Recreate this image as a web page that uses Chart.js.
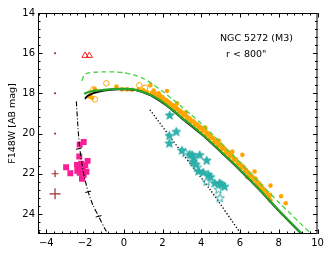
<!DOCTYPE html>
<html>
<head>
<meta charset="utf-8">
<script src="https://cdn.jsdelivr.net/npm/chart.js@4.4.0/dist/chart.umd.min.js"></script>
<style>
  body { margin: 0; background: #fff; }
  canvas { display: block; }
</style>
</head>
<body>
<canvas id="cmd_chart" width="332" height="256"></canvas>
<script>
// tick labels
const x_ticks = [-4, -2, 0, 2, 4, 6, 8, 10];
const y_ticks = [14, 16, 18, 20, 22, 24];

// model tracks
const green_solid_x = [-2.05, -1.8, -1.4, -0.9, -0.4, 0.1, 0.5, 0.9, 1.4, 1.8, 2.2, 2.6, 3.0, 3.5, 4.0, 5.0, 6.0, 7.0, 8.0, 9.2];
const green_solid_y = [18.02, 17.92, 17.86, 17.81, 17.78, 17.78, 17.8, 17.9, 18.08, 18.3, 18.58, 18.88, 19.22, 19.6, 20.0, 20.88, 21.8, 22.78, 23.82, 25.0];

const green_dash_x = [-2.17, -2.05, -1.9, -1.5, -1.0, -0.5, 0.0, 0.5, 1.0, 1.5, 2.0, 2.5, 3.0, 3.5, 4.0, 5.0, 6.0, 7.0, 8.0, 9.7];
const green_dash_y = [17.38, 17.1, 17.0, 16.95, 16.93, 16.93, 16.97, 17.08, 17.25, 17.55, 17.9, 18.28, 18.68, 19.08, 19.5, 20.45, 21.45, 22.45, 23.42, 25.02];

const iso_x = [-2.0, -1.95, -1.85, -1.6, -1.2, -0.8, -0.3, 0.1, 0.5, 1.0, 1.4, 2.2, 3.0, 4.0, 5.0, 6.0, 7.0, 8.0, 9.2];
const iso_y = [18.28, 18.2, 18.12, 18.0, 17.9, 17.84, 17.8, 17.8, 17.82, 17.95, 18.11, 18.61, 19.25, 20.03, 20.91, 21.83, 22.81, 23.85, 25.03];

const wd_x = [-2.45, -2.38, -2.3, -2.18, -2.05, -1.84, -1.6, -1.3, -1.0, -0.82];
const wd_y = [18.4, 19.5, 20.5, 21.4, 22.1, 22.9, 23.55, 24.12, 24.7, 25.0];
const wd_mark_x = [-2.32, -1.84, -1.3];
const wd_mark_y = [20.75, 22.9, 24.12];

const dot_x = [1.35, 3.0, 4.5, 6.05];
const dot_y = [18.82, 20.95, 22.85, 25.0];

// error size markers
const err_x = [-3.55, -3.55, -3.55, -3.55, -3.55];
const err_y = [16, 18, 20, 22, 23];
const err_size = [1, 1, 1, 3.5, 5.5];

const tri_x = [-2.0, -1.78];
const tri_y = [16.12, 16.12];

// observed stars
const orange_x = [-1.8, -1.73, -1.64, -1.5, -0.38, -0.1, 0.17, 0.43, 0.77, 1.0, 1.2, 1.37, 1.54, 1.8, 2.23,
  1.45, 1.5, 1.6, 1.65, 1.75, 1.8, 1.9, 1.95, 2.0, 2.05, 2.1, 2.2, 2.25, 2.3, 2.4, 2.45, 2.5, 2.6, 2.65, 2.7,
  2.8, 2.85, 2.9, 3.0, 3.05, 3.1, 3.2, 3.25, 3.3, 3.4, 3.45, 3.5, 3.6, 3.65, 3.7, 3.8, 3.85, 3.9, 4.0, 4.05,
  4.1, 4.2, 4.25, 4.3, 4.4, 4.45, 4.5, 4.6, 4.65, 4.7, 4.8, 4.85, 4.9, 5.0, 5.05, 5.1, 5.2, 5.25, 5.3, 5.4,
  5.45, 5.5, 5.6, 5.65, 5.7, 5.8, 5.85, 5.9, 6.0, 6.05, 6.1, 6.2, 6.25, 6.3, 6.4, 6.45, 6.5, 6.6, 6.65, 6.7,
  6.8, 6.85, 6.9, 7.0, 7.05, 7.1, 7.2, 7.25, 7.3, 7.4, 7.5, 7.55,
  2.75, 3.2, 4.2, 4.9, 5.6, 6.12, 6.37, 6.75, 6.8, 6.92, 7.48, 7.57, 7.57, 8.12, 8.36];
const orange_y = [18.15, 18.08, 18.22, 17.78, 17.66, 17.8, 17.8, 17.82, 17.8, 17.85, 17.95, 17.6, 17.86, 18.0, 17.88,
  17.98, 18.05, 18.0, 18.12, 18.1, 18.22, 18.15, 18.3, 18.2, 18.4, 18.3, 18.35, 18.5, 18.42, 18.5, 18.65, 18.6, 18.62, 18.78, 18.7,
  18.8, 18.95, 18.85, 18.95, 19.1, 19.0, 19.1, 19.28, 19.2, 19.25, 19.42, 19.35, 19.4, 19.6, 19.5, 19.55, 19.75, 19.65, 19.72, 19.9,
  19.8, 19.85, 20.08, 19.98, 20.05, 20.25, 20.15, 20.22, 20.45, 20.35, 20.4, 20.62, 20.5, 20.6, 20.8, 20.7, 20.75, 20.98, 20.9, 20.95,
  21.15, 21.05, 21.12, 21.35, 21.25, 21.3, 21.55, 21.45, 21.5, 21.72, 21.6, 21.68, 21.9, 21.8, 21.92, 22.1, 22.0, 22.12, 22.3, 22.2,
  22.3, 22.5, 22.4, 22.5, 22.7, 22.6, 22.75, 22.9, 22.85, 23.0, 23.15, 23.05,
  18.5, 18.95, 19.7, 20.35, 20.9, 21.06, 22.16, 21.89, 22.25, 22.58, 23.12, 22.59, 23.32, 23.12, 23.47];

const orange_open_x = [-1.57, -1.5, -0.9, 0.8, 1.1];
const orange_open_y = [17.8, 18.3, 17.5, 17.6, 17.72];

const star_x = [2.37, 2.71, 2.35, 2.35, 3.0, 3.42, 3.53, 3.92, 3.62, 3.57, 4.28, 3.72, 3.85, 4.1, 4.36, 4.48, 4.69, 4.95, 5.05, 5.2];
const star_y = [19.1, 19.92, 20.12, 20.5, 20.85, 21.06, 21.08, 21.08, 21.2, 21.42, 21.35, 21.55, 21.88, 21.95, 22.06, 22.17, 22.48, 22.48, 22.55, 22.65];
const star_open_x = [3.18, 3.78, 4.28, 4.88, 4.96];
const star_open_y = [20.97, 21.7, 22.4, 22.8, 23.22];

const square_x = [-2.07, -2.28, -2.3, -1.87, -2.98, -2.76, -2.42, -2.33, -2.2, -1.99, -2.24, -2.12, -1.93, -2.07, -2.16, -2.4, -2.28, -2.15];
const square_y = [20.42, 20.55, 21.14, 21.36, 21.68, 21.98, 21.56, 21.72, 21.5, 21.58, 21.8, 21.7, 21.9, 22.05, 22.25, 21.85, 21.95, 21.95];

const pts = (xs, ys) => xs.map((v, i) => ({x: v, y: ys[i]}));

function make_star(fill) {
    let c = document.createElement('canvas');
    c.width = 11; c.height = 11;
    let g = c.getContext('2d');
    g.beginPath();
    for (let i = 0; i < 10; i++) {
        let r = i % 2 ? 1.9 : 4.6;
        let a = -Math.PI / 2 + i * Math.PI / 5;
        g.lineTo(5.5 + r * Math.cos(a), 5.5 + r * Math.sin(a));
    }
    g.closePath();
    if (fill) { g.fillStyle = '#2ab5ae'; g.fill(); }
    g.strokeStyle = '#26a8a2';
    g.lineWidth = 1;
    g.stroke();
    return c;
}

const frame_ticks = {
    id: 'frame_ticks',
    afterDatasetsDraw(chart) {
        const {ctx, chartArea: a, scales: {x, y}} = chart;
        ctx.save();
        ctx.strokeStyle = '#000';
        ctx.lineWidth = 1;
        ctx.strokeRect(a.left + 0.5, a.top + 0.5, a.right - a.left - 1, a.bottom - a.top - 1);
        ctx.beginPath();
        for (let i = -11; i <= 25; i++) {
            let v = i * 0.4;
            if (v < x.min || v > x.max) continue;
            let len = Math.abs(v / 2 - Math.round(v / 2)) < 1e-6 ? 4.5 : 2.5;
            let p = Math.round(x.getPixelForValue(v)) + 0.5;
            ctx.moveTo(p, a.bottom); ctx.lineTo(p, a.bottom - len);
            ctx.moveTo(p, a.top); ctx.lineTo(p, a.top + len);
        }
        for (let i = 35; i <= 62; i++) {
            let v = i * 0.4;
            if (v < y.min || v > y.max) continue;
            let len = Math.abs(v / 2 - Math.round(v / 2)) < 1e-6 ? 4.5 : 2.5;
            let p = Math.round(y.getPixelForValue(v)) + 0.5;
            ctx.moveTo(a.left, p); ctx.lineTo(a.left + len, p);
            ctx.moveTo(a.right, p); ctx.lineTo(a.right - len, p);
        }
        ctx.stroke();
        ctx.fillStyle = '#000';
        ctx.font = '9.5px "DejaVu Sans"';
        ctx.textBaseline = 'middle';
        ctx.fillText('NGC 5272 (M3)', 220, 39);
        ctx.fillText('r < 800"', 226, 55);
        ctx.restore();
    }
};

const line_set = (xs, ys, color, width, dash, order) => ({
    data: pts(xs, ys), showLine: true, borderColor: color, borderWidth: width,
    borderDash: dash, pointRadius: 0, tension: 0.25, order: order
});

new Chart(document.getElementById('cmd_chart').getContext('2d'), {
    type: 'scatter',
    data: {
        datasets: [
            line_set(green_solid_x, green_solid_y, '#28a428', 2.2, [], 1),
            line_set(green_dash_x, green_dash_y, '#44d444', 1.3, [5, 3], 2),
            line_set(iso_x, iso_y, '#000', 1.7, [], 3),
            {data: pts(orange_open_x, orange_open_y), pointStyle: 'circle', pointRadius: 2.8,
             backgroundColor: 'rgba(0,0,0,0)', borderColor: '#ffa500', borderWidth: 1, order: 4},
            {data: pts(orange_x, orange_y), pointStyle: 'circle', pointRadius: 2.3,
             backgroundColor: '#ffa500', borderColor: '#ffa500', borderWidth: 0, order: 5},
            {data: pts(star_x, star_y), pointStyle: make_star(true), order: 6},
            {data: pts(star_open_x, star_open_y), pointStyle: make_star(false), order: 6},
            line_set(dot_x, dot_y, '#000', 1.3, [1.3, 2], 7),
            line_set(wd_x, wd_y, '#000', 1.1, [5, 2, 1, 2], 8),
            {data: pts(wd_mark_x, wd_mark_y), pointStyle: 'line', pointRadius: 3, rotation: -14,
             borderColor: '#000', borderWidth: 1, order: 8},
            {data: pts(square_x, square_y), pointStyle: 'rect', pointRadius: 4.2,
             backgroundColor: '#fa1e96', borderColor: '#fa1e96', borderWidth: 0, order: 9},
            {data: pts(err_x, err_y), pointStyle: 'cross', pointRadius: err_size,
             borderColor: '#a0302a', borderWidth: 1.2, order: 10},
            {data: pts(tri_x, tri_y), pointStyle: 'triangle', pointRadius: 3.6,
             backgroundColor: 'rgba(0,0,0,0)', borderColor: '#ff2020', borderWidth: 1, order: 10}
        ]
    },
    options: {
        responsive: false,
        animation: false,
        layout: {padding: {top: 13, right: 14.5, bottom: 0, left: 0}},
        plugins: {legend: {display: false}, tooltip: {enabled: false}},
        scales: {
            x: {
                type: 'linear', min: -4.43, max: 10,
                grid: {display: false, drawTicks: false},
                border: {display: false},
                ticks: {color: '#000', font: {family: 'DejaVu Sans', size: 10}, padding: 3,
                        callback: v => String(v).replace('-', '\u2212')},
                afterBuildTicks: s => { s.ticks = x_ticks.map(v => ({value: v})); },
                afterFit: s => { s.height = 22; }
            },
            y: {
                type: 'linear', min: 14, max: 25, reverse: true,
                grid: {display: false, drawTicks: false},
                border: {display: false},
                ticks: {color: '#000', font: {family: 'DejaVu Sans', size: 10}, padding: 3},
                title: {display: true, text: 'F148W [AB mag]', color: '#000',
                        font: {family: 'DejaVu Sans', size: 9.5}, padding: {top: 7, bottom: 0}},
                afterBuildTicks: s => { s.ticks = y_ticks.map(v => ({value: v})); },
                afterFit: s => { s.width = 38; }
            }
        }
    },
    plugins: [frame_ticks]
});
</script>
</body>
</html>
